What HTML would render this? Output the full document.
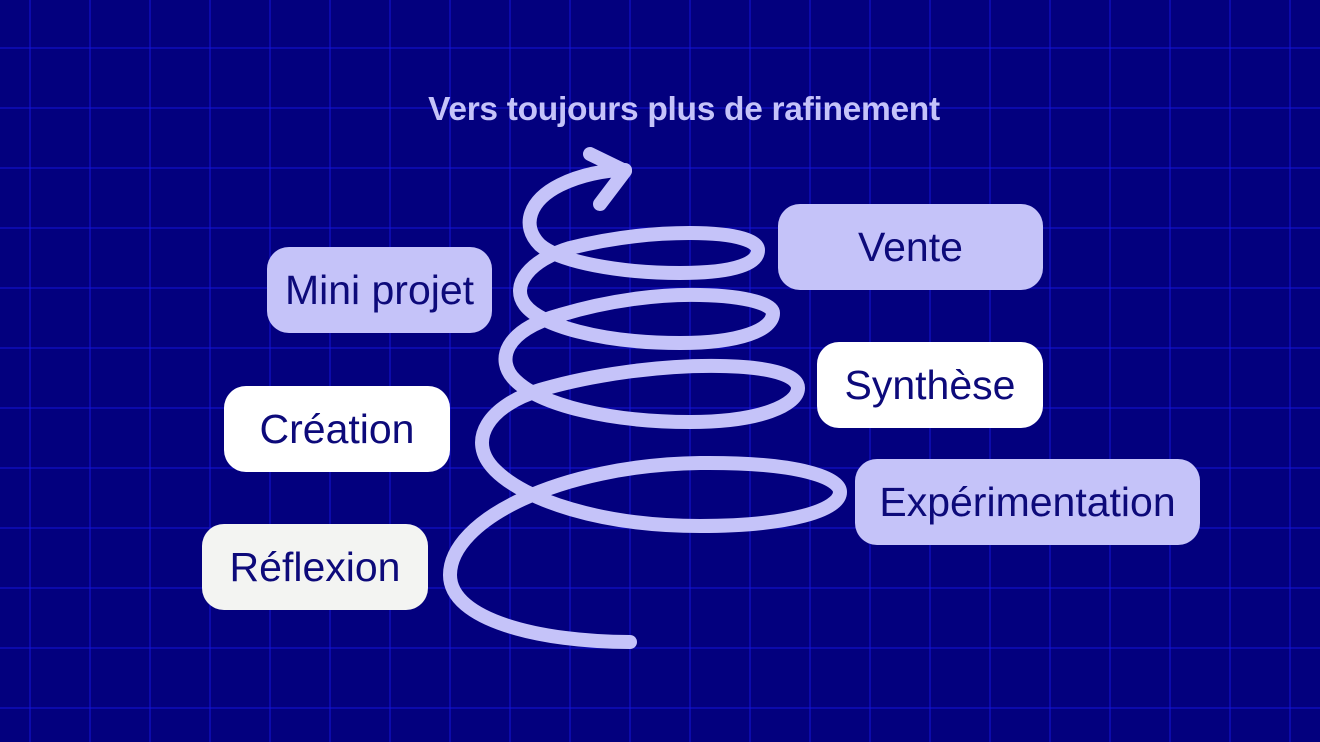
<!DOCTYPE html>
<html><head><meta charset="utf-8"><style>
html,body{margin:0;padding:0}
body{width:1320px;height:742px;overflow:hidden;background-color:#03007e;
background-image:linear-gradient(to right,#1515d8 0,#1515d8 1.2px,transparent 1.2px),linear-gradient(to bottom,#1515d8 0,#1515d8 1.2px,transparent 1.2px);
background-size:60px 60px;background-position:29.5px 47.5px;position:relative;font-family:"Liberation Sans",sans-serif}
.t{position:absolute;left:0;width:1368px;top:91px;text-align:center;color:#c5c3f9;font-weight:bold;font-size:33.5px;letter-spacing:-0.3px}
.b{position:absolute;height:86px;border-radius:22px;display:flex;align-items:center;justify-content:center;font-size:41px;color:#0d0a7a}
.l{background:#c5c3f9}.w{background:#fff}.g{background:#f3f4f2}
svg{position:absolute;left:0;top:0}
</style></head><body>
<div class="t">Vers toujours plus de rafinement</div>
<svg width="1320" height="742">
<path fill="none" stroke="#c5c3f9" stroke-width="14" stroke-linecap="round" stroke-linejoin="round" d="M630,642
C540,642 450,620 450,575
C450,520 560,465 700,463
C800,462 840,478 840,492
C840,510 790,526 700,526
C600,526 525,500 495,470
C465,440 490,405 540,390
C590,375 660,365 720,366
C780,367 798,378 798,388
C798,405 760,422 690,422
C610,422 540,405 515,380
C495,360 505,330 560,315
C610,300 660,294 700,295
C750,296 773,305 773,313
C773,330 740,343 680,343
C600,343 540,325 525,305
C510,285 530,260 570,248
C610,238 650,233 690,233
C740,233 758,242 758,250
C758,262 740,273 680,273
C620,273 560,262 540,245
C520,225 530,200 560,185
C580,175 605,170 625,170"/>
<path fill="none" stroke="#c5c3f9" stroke-width="14" stroke-linecap="round" stroke-linejoin="round" d="M590,154 L625,171 L600,204"/>
</svg>
<div class="b l" style="left:267px;top:247px;width:225px">Mini projet</div>
<div class="b l" style="left:778px;top:204px;width:265px">Vente</div>
<div class="b w" style="left:817px;top:342px;width:226px">Synthèse</div>
<div class="b w" style="left:224px;top:386px;width:226px">Création</div>
<div class="b l" style="left:855px;top:459px;width:345px">Expérimentation</div>
<div class="b g" style="left:202px;top:524px;width:226px">Réflexion</div>
</body></html>
